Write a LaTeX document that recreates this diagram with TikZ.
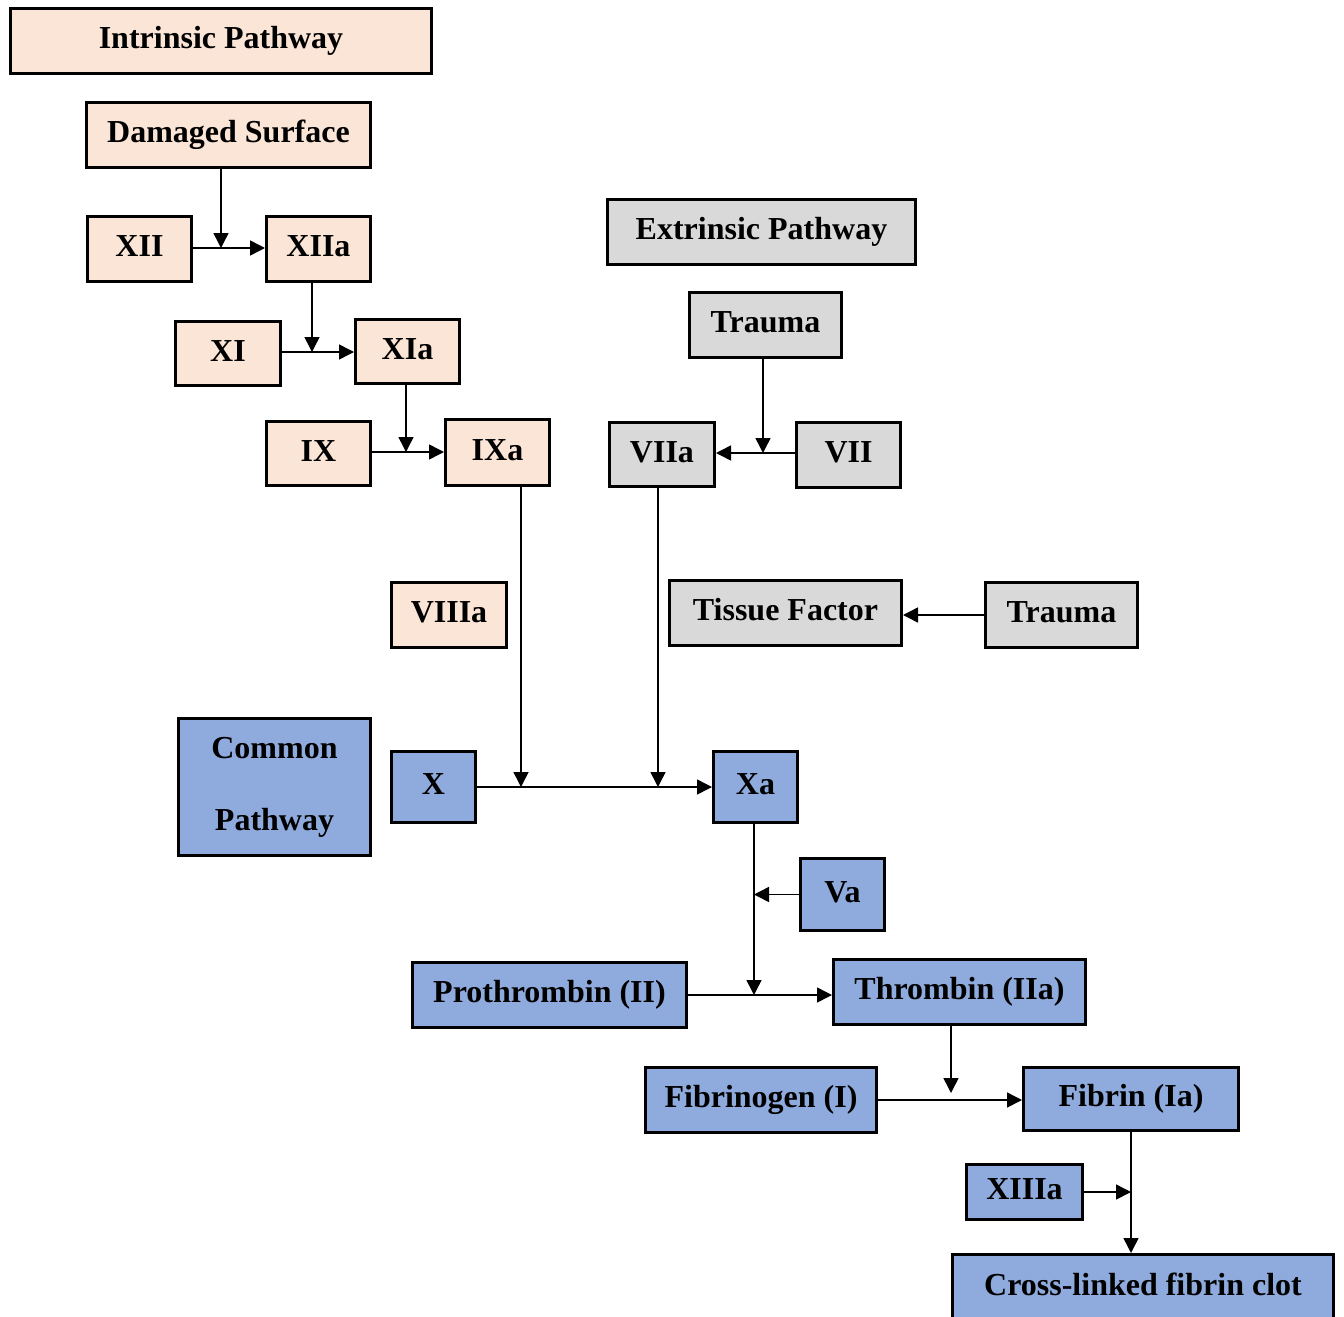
\documentclass[tikz,border=0pt]{standalone}
\usepackage{fontspec}
\setmainfont{Liberation Serif}
\usetikzlibrary{arrows.meta}
\definecolor{peachfill}{HTML}{FBE5D6}
\definecolor{greyfill}{HTML}{D9D9D9}
\definecolor{bluefill}{HTML}{8FAADC}
\tikzset{
  boxbase/.style={draw, line width=1.5pt, inner sep=0pt, align=center,
    font=\bfseries\fontsize{16}{19}\selectfont},
  box/.style={boxbase, text height=11.5pt, text depth=4pt},
  intr/.style={box, fill=peachfill},
  extr/.style={box, fill=greyfill},
  comm/.style={box, fill=bluefill},
  commtwo/.style={boxbase, fill=bluefill},
  link/.style={line width=0.75pt, -{Triangle[length=7.5pt,width=7.5pt]}},
}
\begin{document}
\begin{tikzpicture}[x=0.5pt,y=-0.5pt]
      \useasboundingbox (0,0) rectangle (1344,1317);
      % intrinsic pathway
      \node[intr, minimum width=210.5pt, minimum height=32.5pt] (ip) at (221,41) {Intrinsic Pathway};
      \node[intr, minimum width=142pt, minimum height=32.5pt] (ds) at (228.5,135) {Damaged Surface};
      \node[intr, minimum width=52pt, minimum height=32.5pt] (xii) at (139.5,249) {XII};
      \node[intr, minimum width=52pt, minimum height=32.5pt] (xiia) at (318.5,249) {XIIa};
      \node[intr, minimum width=52.5pt, minimum height=32pt] (xi) at (228,353.5) {XI};
      \node[intr, minimum width=52pt, minimum height=32pt] (xia) at (407.5,351.5) {XIa};
      \node[intr, minimum width=52pt, minimum height=32pt] (ix) at (318.5,453.5) {IX};
      \node[intr, minimum width=52pt, minimum height=33pt] (ixa) at (497.5,452.5) {IXa};
      \node[intr, minimum width=57.5pt, minimum height=32.5pt] (viiia) at (449,615) {VIIIa};
      % extrinsic pathway
      \node[extr, minimum width=154pt, minimum height=32.5pt] (ep) at (761.5,232) {Extrinsic Pathway};
      \node[extr, minimum width=76pt, minimum height=32.5pt] (tra) at (765.5,325) {Trauma};
      \node[extr, minimum width=52.5pt, minimum height=32pt] (viia) at (662,454.5) {VIIa};
      \node[extr, minimum width=52pt, minimum height=32.5pt] (vii) at (848.5,455) {VII};
      \node[extr, minimum width=116pt, minimum height=32.5pt] (tf) at (785.5,613) {Tissue Factor};
      \node[extr, minimum width=76pt, minimum height=32.5pt] (trb) at (1061.5,615) {Trauma};
      % common pathway
      \node[commtwo, minimum width=96pt, minimum height=68.5pt] (cp) at (274.5,787) {Common\\[17pt]Pathway};
      \node[comm, minimum width=42pt, minimum height=35.5pt] (x) at (433.5,787) {X};
      \node[comm, minimum width=42pt, minimum height=35.5pt] (xa) at (755.5,787) {Xa};
      \node[comm, minimum width=42pt, minimum height=36pt] (va) at (842.5,894.5) {Va};
      \node[comm, minimum width=137pt, minimum height=32.5pt] (pro) at (549.5,995) {Prothrombin (II)};
      \node[comm, minimum width=126pt, minimum height=32.5pt] (thr) at (959.5,992) {Thrombin (IIa)};
      \node[comm, minimum width=115.5pt, minimum height=32.5pt] (fbg) at (761,1100) {Fibrinogen (I)};
      \node[comm, minimum width=107.5pt, minimum height=31.5pt] (fbn) at (1131,1099) {Fibrin (Ia)};
      \node[comm, minimum width=58pt, minimum height=27.5pt] (xiiia) at (1024.5,1192) {XIIIa};
      \node[comm, minimum width=190.5pt, minimum height=33.5pt] (clot) at (1143,1288) {Cross-linked fibrin clot};
      % junctions on the lines
      \coordinate (j1) at (221,248);
      \coordinate (j2) at (312,352);
      \coordinate (j3) at (406,452);
      \coordinate (j4) at (763,453);
      \coordinate (j5) at (521,787);
      \coordinate (j6) at (658,787);
      \coordinate (j7) at (754,995);
      \coordinate (j8) at (951,1093);
      \coordinate (j9) at (1131,1192);
      \begin{scope}[link]
        \draw (ds.south -| j1) to (j1);
        \draw (xii.east |- j1) to (xiia.west |- j1);
        \draw (xiia.south -| j2) to (j2);
        \draw (xi.east |- j2) to (xia.west |- j2);
        \draw (xia.south -| j3) to (j3);
        \draw (ix.east |- j3) to (ixa.west |- j3);
        \draw (tra.south -| j4) to (j4);
        \draw (vii.west |- j4) to (viia.east |- j4);
        \draw (trb.west) to (trb.west -| tf.east);
        \draw (ixa.south -| j5) to (j5);
        \draw (viia.south -| j6) to (j6);
        \draw (x.east) to (x.east -| xa.west);
        \draw (xa.south -| j7) to (j7);
        \draw (va.west) to (va.west -| j7);
        \draw (pro.east) to (pro.east -| thr.west);
        \draw (thr.south -| j8) to (j8);
        \draw (fbg.east) to (fbg.east -| fbn.west);
        \draw (fbn.south) to (fbn.south |- clot.north);
        \draw (xiiia.east) to (j9);
      \end{scope}
\end{tikzpicture}
\end{document}
